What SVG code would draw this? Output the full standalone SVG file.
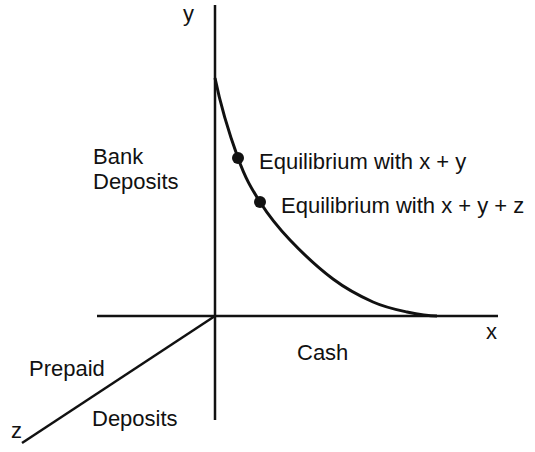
<svg xmlns="http://www.w3.org/2000/svg" width="535" height="452" viewBox="0 0 535 452">
<style>
.t{font-family:"Liberation Sans",Arial,sans-serif;font-size:22px;fill:#111}
.ax{stroke:#111;stroke-width:2.5;fill:none;stroke-linecap:butt}
.cv{stroke:#111;stroke-width:3;fill:none}
.dot{fill:#111}
</style>
<rect width="535" height="452" fill="#fff"/>
<g id="connectors">
<line id="y-axis" class="ax" x1="215" y1="5" x2="215" y2="420"/>
<line id="x-axis" class="ax" x1="97" y1="316" x2="498" y2="316"/>
<line id="z-axis" class="ax" x1="215" y1="316" x2="22" y2="443"/>
<path id="curve" class="cv" d="M215,78 C220.3,104 230.5,137.3 238,158 C245.5,178.7 251.3,188.3 260,202 C268.7,215.7 277.8,227.2 290,240 C302.2,252.8 319.2,268.7 333,279 C346.8,289.3 360.7,296.5 373,302 C385.3,307.5 396.3,309.7 407,312 C417.7,314.3 427,316 437,316"/>
</g>
<g id="eq1"><circle class="dot" cx="238" cy="158" r="6"/><text class="t" x="259" y="169">Equilibrium with x + y</text></g>
<g id="eq2"><circle class="dot" cx="260" cy="202" r="6"/><text class="t" x="281" y="213">Equilibrium with x + y + z</text></g>
<g id="labels">
<text class="t" x="183" y="21">y</text>
<text class="t" x="486" y="339">x</text>
<text class="t" x="11" y="438">z</text>
<text class="t" x="93" y="164">Bank</text>
<text class="t" x="93" y="189">Deposits</text>
<text class="t" x="297" y="360">Cash</text>
<text class="t" x="29" y="376">Prepaid</text>
<text class="t" x="92" y="426">Deposits</text>
</g>
</svg>
